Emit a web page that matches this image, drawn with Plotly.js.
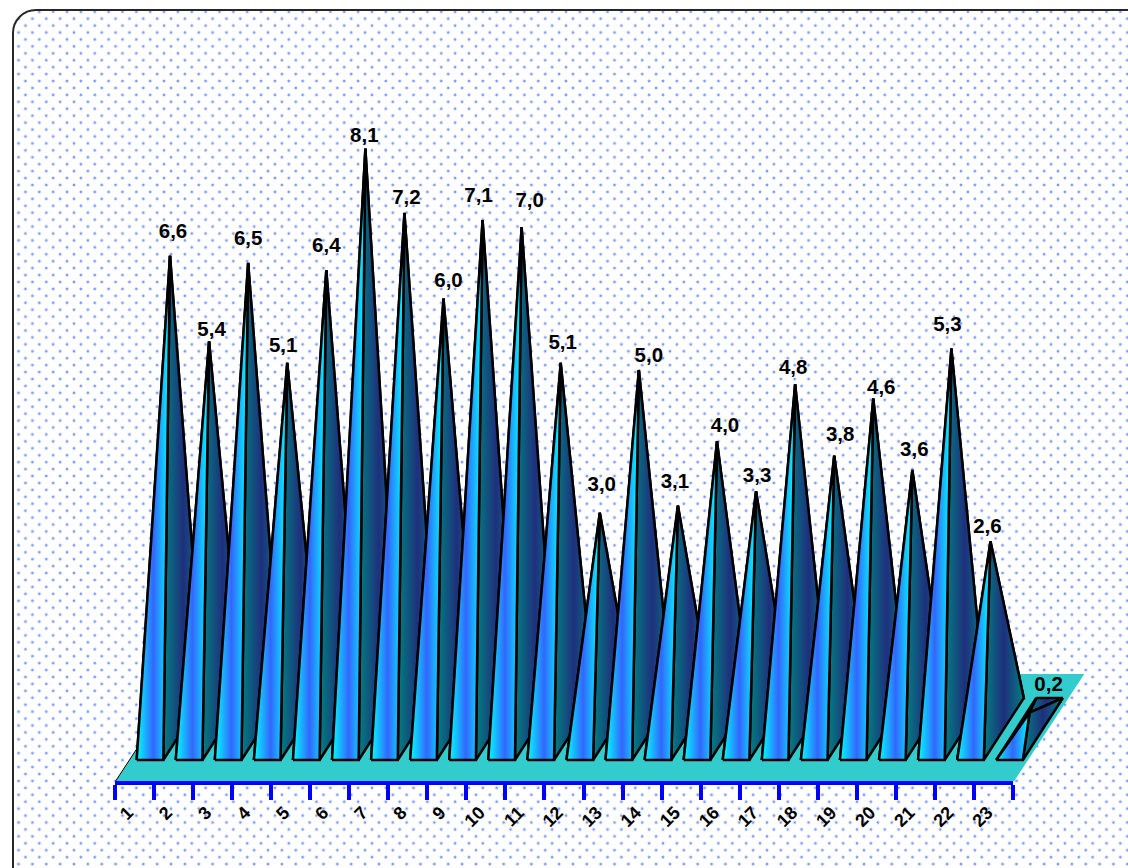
<!DOCTYPE html>
<html>
<head>
<meta charset="utf-8">
<script src="https://cdn.plot.ly/plotly-3.0.1.min.js"></script>
<style>
html,body{margin:0;padding:0;background:#fff;overflow:hidden;}
#frame{position:absolute;left:12px;top:9px;width:1200px;height:900px;border:2px solid #262626;border-radius:24px;box-sizing:border-box;
background-color:#fff;
background-image:radial-gradient(circle at center,#6f8fff 0,#7f9cff 0.8px,rgba(130,160,255,0) 1.9px),radial-gradient(circle at center,#6f8fff 0,#7f9cff 0.8px,rgba(130,160,255,0) 1.9px);
background-size:13.87px 13.87px,13.87px 13.87px;
background-position:18.4px -6.2px,11.5px 0.73px;}
#chart{position:absolute;left:0;top:0;width:1128px;height:868px;}
</style>
</head>
<body>
<div id="frame"></div>
<div id="chart"></div>
<script>
const categories = ['1','2','3','4','5','6','7','8','9','10','11','12','13','14','15','16','17','18','19','20','21','22','23'];
const seriesValues = [6.6,5.4,6.5,5.1,6.4,8.1,7.2,6.0,7.1,7.0,5.1,3.0,5.0,3.1,4.0,3.3,4.8,3.8,4.6,3.6,5.3,2.6,0.2];
// label nudges, pixels from each apex (right, up)
const labelNudgeX = [3,2.5,0,-4,0,-1,2,5,-4,8,2,2,10,-3,8,1,-2,6,8,2,-4,-3,19];
const labelNudgeY = [23.3,10.9,23.4,16.4,23.5,12.2,14.4,17.1,23.6,25.7,19.4,27.3,13.5,23.2,14.9,14.9,15.8,20.2,10.1,19.5,23.1,13.9,27.2];

// scale of the plot area
const W = 898.6, H = 781, L = 114.7, PW = 1128;
const pxX = W / 23, pxY = 71.4;
const zeroPx = 727;
const yMin = (zeroPx - H) / pxY, yMax = zeroPx / pxY;

// pyramid geometry in axis units
const barLeft = 0.563, barWidth = 0.682;
const depthX = 40 / pxX, depthY = 62 / pxY;
const baseCentre = -2 / pxY;
const floorDX = 71 / pxX, floorFront = yMin - 1.5 / pxY, floorBack = (zeroPx - 674) / pxY;

const frontScale = [[0,'#00ffff'],[0.5,'#3366ff'],[1,'#00ffff']];
const sideScale = [[0,'#008080'],[0.5,'#1f2f7d'],[1,'#008080']];

function face(xs, ys, scale) {
  return {
    type:'scatter', mode:'lines', x:xs, y:ys, fill:'toself',
    fillgradient:{type:'horizontal', colorscale:scale},
    line:{color:'#000', width:2.5}, cliponaxis:false, hoverinfo:'skip', showlegend:false
  };
}

const traces = [];
traces.push({type:'scatter',mode:'lines',
  x:[0,23,23+floorDX,floorDX,0], y:[floorFront,floorFront,floorBack,floorBack,floorFront],
  fill:'toself',fillcolor:'#33cccc',line:{width:0,color:'#33cccc'},cliponaxis:false,hoverinfo:'skip',showlegend:false});
traces.push({type:'scatter',mode:'lines',
  x:[0,floorDX], y:[floorFront,floorBack],
  line:{width:1,color:'#000'},cliponaxis:false,hoverinfo:'skip',showlegend:false});

seriesValues.forEach((v,i)=>{
  const fl = i + barLeft, fr = fl + barWidth;
  const bl = fl + depthX, br = fr + depthX;
  const yf = baseCentre - depthY/2, yb = baseCentre + depthY/2;
  const ax = (fl + br) / 2;
  traces.push(face([bl,br,ax,bl],[yb,yb,v,yb],sideScale));
  traces.push(face([fl,bl,ax,fl],[yf,yb,v,yf],sideScale));
  traces.push(face([fr,br,ax,fr],[yf,yb,v,yf],sideScale));
  traces.push(face([fl,fr,ax,fl],[yf,yf,v,yf],frontScale));
});

traces.push({
  type:'scatter', mode:'text',
  x:seriesValues.map((v,i)=> i + barLeft + (barWidth + depthX)/2 + labelNudgeX[i]/pxX),
  y:seriesValues.map((v,i)=> v + labelNudgeY[i]/pxY),
  text:seriesValues.map(v=>v.toFixed(1).replace('.',',')),
  textposition:'middle center',
  textfont:{family:'"Liberation Sans", Arial, sans-serif',size:20.5,color:'#000',weight:700},
  cliponaxis:false, hoverinfo:'skip', showlegend:false
});

// the visible category axis lives on its own x axis, over the 23 categories only
traces.push({type:'scatter', mode:'none', x:[0,23], y:[0,0], xaxis:'x2', yaxis:'y', hoverinfo:'skip', showlegend:false});

const layout = {
  width:PW, height:868,
  margin:{l:0, r:0, t:0, b:868-H, pad:0},
  paper_bgcolor:'rgba(0,0,0,0)', plot_bgcolor:'rgba(0,0,0,0)',
  showlegend:false,
  xaxis:{range:[-L/pxX,(PW-L)/pxX], visible:false, fixedrange:true},
  xaxis2:{
    domain:[L/PW,(L+W)/PW], anchor:'y', side:'bottom',
    range:[0,23], showgrid:false, zeroline:false,
    showline:true, linecolor:'#0000ff', linewidth:4,
    tickmode:'array',
    tickvals:categories.map((c,i)=> i + 0.34),
    ticktext:categories,
    ticks:'', tickangle:-45, ticklabelstandoff:10,
    tickfont:{family:'"Liberation Sans", Arial, sans-serif',size:18,color:'#000',weight:700},
    minor:{tickmode:'array', tickvals:categories.map((c,i)=>i).concat([categories.length]),
      ticks:'outside', ticklen:15, tickwidth:4, tickcolor:'#0000ff', showgrid:false},
    fixedrange:true
  },
  yaxis:{range:[yMin,yMax], visible:false, fixedrange:true}
};
Plotly.newPlot('chart', traces, layout, {displayModeBar:false, staticPlot:true});
</script>
</body>
</html>
